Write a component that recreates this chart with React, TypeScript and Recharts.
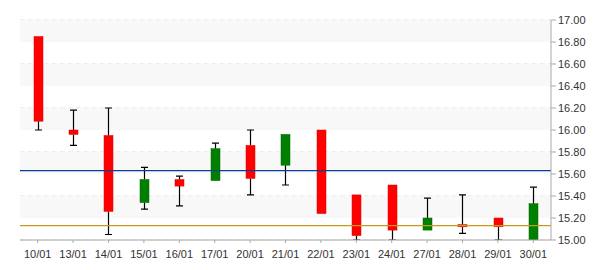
import React from 'react';
import { ComposedChart, Bar, XAxis, YAxis, CartesianGrid, ReferenceLine, ReferenceArea } from 'recharts';

const dates = ['10/01','13/01','14/01','15/01','16/01','17/01','20/01','21/01','22/01','23/01','24/01','27/01','28/01','29/01','30/01'];
const opens = [16.85, 16.00, 15.95, 15.34, 15.55, 15.54, 15.86, 15.68, 16.00, 15.41, 15.50, 15.09, 15.14, 15.20, 15.00];
const highs = [16.85, 16.18, 16.20, 15.66, 15.58, 15.88, 16.00, 15.96, 16.00, 15.41, 15.50, 15.38, 15.41, 15.20, 15.48];
const lows = [16.00, 15.86, 15.05, 15.28, 15.31, 15.54, 15.41, 15.50, 15.24, 15.00, 15.00, 15.09, 15.06, 15.00, 15.00];
const closes = [16.08, 15.96, 15.26, 15.55, 15.49, 15.83, 15.56, 15.96, 15.24, 15.04, 15.09, 15.20, 15.12, 15.12, 15.33];
const yTicks = [15.0, 15.2, 15.4, 15.6, 15.8, 16.0, 16.2, 16.4, 16.6, 16.8, 17.0];
const blueLevel = 15.63;
const goldLevel = 15.13;

const data = dates.map((d, i) => ({
  date: d,
  open: opens[i],
  high: highs[i],
  low: lows[i],
  close: closes[i],
  range: [lows[i], highs[i]],
}));

// shaded bands: every other interval counting down from the top tick
const bands: [number, number][] = [];
for (let i = yTicks.length - 1; i > 0; i -= 2) {
  bands.push([yTicks[i - 1], yTicks[i]]);
}

const Candle = (props: any) => {
  const { x, y, width, height, payload } = props;
  const { open, close, high, low } = payload;
  const ppu = height / (high - low);
  const yOf = (v: number) => y + (high - v) * ppu;
  const top = Math.max(open, close);
  const bot = Math.min(open, close);
  const up = close >= open;
  const cx = Math.round(x + width / 2) + 0.5;
  const capW = 7;
  const bodyTop = yOf(top);
  const bodyBot = yOf(bot);
  return (
    <g>
      {high > top && (
        <g>
          <line x1={cx} x2={cx} y1={yOf(high)} y2={bodyTop} stroke="#000" strokeWidth={1.2} />
          <line x1={cx - capW / 2} x2={cx + capW / 2} y1={yOf(high)} y2={yOf(high)} stroke="#000" strokeWidth={1.2} />
        </g>
      )}
      {low < bot && (
        <g>
          <line x1={cx} x2={cx} y1={bodyBot} y2={yOf(low)} stroke="#000" strokeWidth={1.2} />
          <line x1={cx - capW / 2} x2={cx + capW / 2} y1={yOf(low)} y2={yOf(low)} stroke="#000" strokeWidth={1.2} />
        </g>
      )}
      <rect
        x={cx - 4.5}
        y={bodyTop}
        width={9}
        height={Math.max(1.5, bodyBot - bodyTop)}
        fill={up ? '#008000' : '#ff0000'}
        stroke={up ? '#006400' : '#e00000'}
        strokeWidth={0.5}
      />
    </g>
  );
};

const font = { fontFamily: 'Liberation Sans, Arial, sans-serif', fontSize: 11, fill: '#333' };

export default function App() {
  return (
    <div style={{ position: 'absolute', left: 0, top: 0, width: 600, height: 270, background: '#fff' }}>
      <ComposedChart width={600} height={270} data={data} margin={{ top: 20, right: 0, bottom: 0, left: 20 }}>
        {bands.map(([a, b], i) => (
          <ReferenceArea key={i} y1={a} y2={b} fill="#f8f8f8" fillOpacity={1} stroke="none" ifOverflow="hidden" />
        ))}
        <CartesianGrid vertical={false} stroke="#dddddd" strokeDasharray="5 3" />
        <XAxis
          dataKey="date"
          height={30}
          tick={font}
          tickSize={3}
          tickMargin={7}
          tickLine={{ stroke: '#aaa' }}
          axisLine={{ stroke: '#aaa' }}
          interval={0}
        />
        <YAxis
          orientation="right"
          width={49}
          domain={[15, 17]}
          ticks={yTicks}
          tickFormatter={(v: number) => v.toFixed(2)}
          tick={{ ...font, textAnchor: 'start' }}
          tickSize={5}
          tickMargin={2}
          tickLine={{ stroke: '#aaa' }}
          axisLine={{ stroke: '#aaa' }}
          allowDataOverflow
        />
        <ReferenceLine y={blueLevel} stroke="#0a3d96" strokeWidth={1.2} />
        <ReferenceLine y={goldLevel} stroke="#c99a1c" strokeWidth={1.2} />
        <Bar dataKey="range" barSize={9} shape={<Candle />} isAnimationActive={false} />
      </ComposedChart>
    </div>
  );
}
